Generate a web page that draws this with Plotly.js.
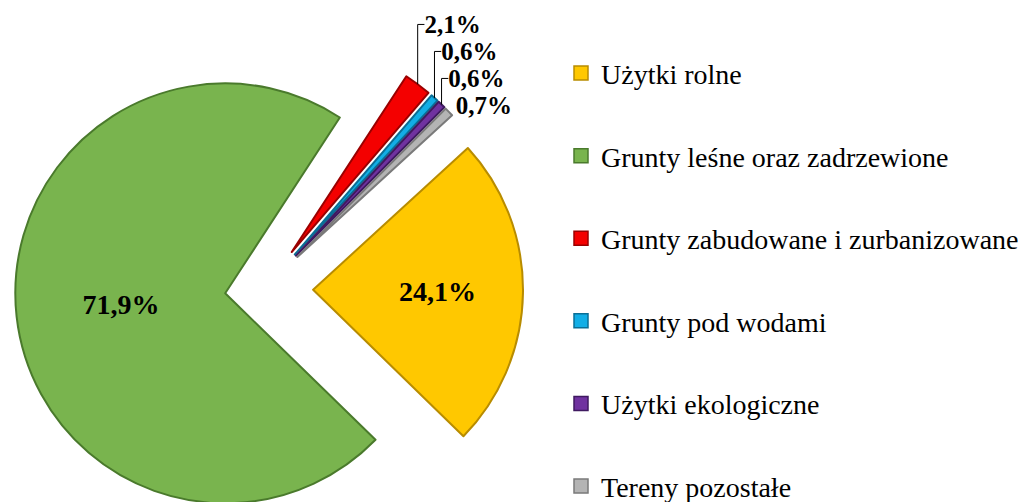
<!DOCTYPE html>
<html>
<head>
<meta charset="utf-8">
<script src="https://cdn.plot.ly/plotly-3.0.1.min.js"></script>
<style>
html, body { margin: 0; padding: 0; width: 1024px; height: 502px; overflow: hidden; background: #fff; }
#chart { position: absolute; left: 0; top: -31px; width: 1024px; height: 640px; }
</style>
</head>
<body>
<div id="chart"></div>
<script>
// Data
const categories = [
  'Użytki rolne',
  'Grunty leśne oraz zadrzewione',
  'Grunty zabudowane i zurbanizowane',
  'Grunty pod wodami',
  'Użytki ekologiczne',
  'Tereny pozostałe'
];
const shares = [24.1, 71.9, 2.1, 0.6, 0.6, 0.7];

// Styles
const fillColors = ['#FFC800', '#79B44E', '#F40000', '#12AEE6', '#7032A0', '#B4B4B4'];
const edgeColors = ['#B88C00', '#4A7A2C', '#9A0000', '#0A6F96', '#3F1A60', '#7A7A7A'];
const pulls = [0.234, 0.186, 0.22, 0.22, 0.22, 0.22];
const textPos = ['inside', 'inside', 'outside', 'outside', 'outside', 'outside'];
const textSizes = [28, 28, 25, 25, 25, 25];

const pie = {
  type: 'pie',
  labels: categories,
  values: shares,
  sort: false,
  direction: 'clockwise',
  rotation: 47.5,
  pull: pulls,
  marker: { colors: fillColors, line: { color: edgeColors, width: 2 } },
  texttemplate: '%{percent:.1%}',
  textposition: textPos,
  insidetextorientation: 'horizontal',
  textfont: { family: 'Liberation Serif', size: textSizes, color: '#000', weight: 'bold' },
  outsidetextfont: { family: 'Liberation Serif', size: textSizes, color: '#000', weight: 'bold' },
  insidetextfont: { family: 'Liberation Serif', size: textSizes, color: '#000', weight: 'bold' },
  domain: { x: [5 / 1024, 523 / 1024], y: [0, 1] },
  showlegend: false,
  hoverinfo: 'label+percent'
};

// Legend entries (one per category, spaced like the original legend)
const legendTraces = categories.map((c, i) => ({
  type: 'scatter',
  mode: 'markers',
  x: [null],
  y: [null],
  name: c,
  legendgroup: 'g' + i,
  marker: { symbol: 'square', size: 14, color: fillColors[i], line: { color: edgeColors[i], width: 1.5 } },
  hoverinfo: 'skip'
}));

const layout = {
  width: 1024,
  height: 640,
  margin: { l: 0, r: 0, t: 0, b: 0, autoexpand: false },
  paper_bgcolor: '#fff',
  plot_bgcolor: '#fff',
  separators: ', ',
  xaxis: { visible: false },
  yaxis: { visible: false },
  showlegend: true,
  legend: {
    x: 561 / 1024,
    xanchor: 'left',
    y: 0.876,
    yanchor: 'top',
    traceorder: 'grouped',
    tracegroupgap: 43.2,
    font: { family: 'Liberation Serif', size: 28, color: '#000' },
    bgcolor: 'rgba(0,0,0,0)'
  }
};

Plotly.newPlot('chart', [pie, ...legendTraces], layout, { displayModeBar: false, staticPlot: true });
</script>
</body>
</html>
